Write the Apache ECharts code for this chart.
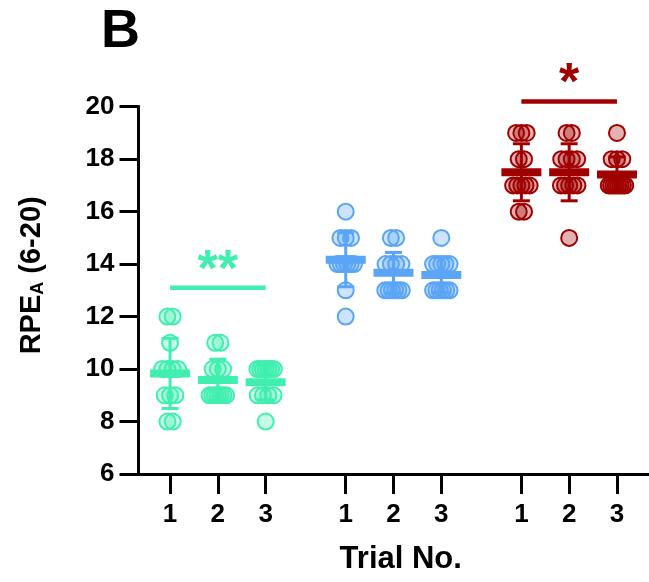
<!DOCTYPE html>
<html>
<head>
<meta charset="utf-8">
<script src="https://cdn.jsdelivr.net/npm/echarts@6/dist/echarts.min.js"></script>
<style>html,body{margin:0;padding:0;background:#fff;}#c{width:649px;height:582px;}</style>
</head>
<body>
<div id="c"></div>
<script>
// ---- data ----
const trialLabels = ['1', '2', '3'];
const groupNames = ['G1', 'G2', 'G3'];
const green = [
  [12, 12, 11, 10, 10, 10, 10, 9, 9, 9, 8, 8],
  [11, 11, 10, 10, 10, 9, 9, 9, 9, 9, 9, 9],
  [10, 10, 10, 10, 10, 10, 10, 9, 9, 9, 9, 8]
];
const blue = [
  [16, 15, 15, 15, 14, 14, 14, 14, 14, 14, 13, 12],
  [15, 15, 14, 14, 14, 14, 13, 13, 13, 13, 13, 13],
  [15, 14, 14, 14, 14, 14, 13, 13, 13, 13, 13, 13]
];
const red = [
  [19, 19, 19, 18, 18, 17, 17, 17, 17, 17, 16, 16],
  [19, 19, 18, 18, 18, 18, 17, 17, 17, 17, 17, 15],
  [19, 18, 18, 18, 17, 17, 17, 17, 17, 17, 17, 17]
];
const yTicks = [6, 8, 10, 12, 14, 16, 18, 20];
// significance: [group index, y level, label]
const sigGroups = [0, 2];
const sigLevels = [13.1, 20.2];
const sigLabels = ['**', '*'];

// ---- layout / style ----
const FONT = 'Liberation Sans, Arial, Helvetica, sans-serif';
const GROUP_SPACING = 3.675;
const PX_PER_UNIT = 47.8;
const colors = ['#40efb0', '#5aa5f5', '#a00000'];
const fills = ['rgba(64,239,176,0.3)', 'rgba(90,165,245,0.3)', 'rgba(160,0,0,0.3)'];
const groups = [green, blue, red];

function xPos(g, t) { return g * GROUP_SPACING + t; }
const tickPositions = [];
for (let g = 0; g < 3; g++) for (let t = 0; t < 3; t++) tickPositions.push(xPos(g, t));

function swarm(values, x) {
  const counts = {}; const seen = {};
  values.forEach(v => { counts[v] = (counts[v] || 0) + 1; });
  return values.map(v => {
    const k = counts[v]; const i = seen[v] || 0; seen[v] = i + 1;
    const stepPx = k > 1 ? Math.min(5.3, 16.5 / (k - 1)) : 0;
    const off = (i - (k - 1) / 2) * stepPx / PX_PER_UNIT;
    return [x + off, v];
  });
}
function mean(a) { return a.reduce((s, v) => s + v, 0) / a.length; }
function sd(a) { const m = mean(a); return Math.sqrt(a.reduce((s, v) => s + (v - m) * (v - m), 0) / (a.length - 1)); }

const series = [];
groups.forEach((grp, g) => {
  const pts = [];
  grp.forEach((vals, t) => { pts.push(...swarm(vals, xPos(g, t))); });
  series.push({
    type: 'scatter', name: groupNames[g], data: pts, symbol: 'circle', symbolSize: 16,
    itemStyle: { color: fills[g], borderColor: colors[g], borderWidth: 2, opacity: 1 },
    z: 2, silent: true
  });
});
groups.forEach((grp, g) => {
  const stats = grp.map((vals, t) => [xPos(g, t), mean(vals), sd(vals)]);
  series.push({
    type: 'custom', data: stats, z: 5, silent: true,
    encode: { x: 0, y: 1 },
    renderItem: function (params, api) {
      const x = api.value(0), m = api.value(1), s = api.value(2);
      const c = api.coord([x, m]);
      const top = api.coord([x, m + s]);
      const bot = api.coord([x, m - s]);
      const col = colors[g];
      return {
        type: 'group', children: [
          { type: 'line', shape: { x1: c[0], y1: top[1], x2: c[0], y2: bot[1] }, style: { stroke: col, lineWidth: 3 } },
          { type: 'line', shape: { x1: c[0] - 8.5, y1: top[1], x2: c[0] + 8.5, y2: top[1] }, style: { stroke: col, lineWidth: 3 } },
          { type: 'line', shape: { x1: c[0] - 8.5, y1: bot[1], x2: c[0] + 8.5, y2: bot[1] }, style: { stroke: col, lineWidth: 3 } },
          { type: 'rect', shape: { x: c[0] - 20, y: c[1] - 4, width: 40, height: 8 }, style: { fill: col } }
        ]
      };
    }
  });
});
series.push({
  type: 'custom', z: 6, silent: true, clip: false,
  data: sigGroups.map((g, i) => [xPos(g, 0), xPos(g, 2), sigLevels[i]]),
  renderItem: function (params, api) {
    const i = params.dataIndex;
    const g = sigGroups[i];
    const p1 = api.coord([api.value(0), api.value(2)]);
    const p2 = api.coord([api.value(1), api.value(2)]);
    return {
      type: 'group', children: [
        { type: 'line', shape: { x1: p1[0], y1: p1[1], x2: p2[0], y2: p2[1] }, style: { stroke: colors[g], lineWidth: 4.5 } },
        { type: 'text', style: { text: sigLabels[i], x: (p1[0] + p2[0]) / 2, y: p1[1] - 16.5, align: 'center', verticalAlign: 'middle', fontSize: 52, fontWeight: 'bold', fontFamily: FONT, fill: colors[g] } }
      ]
    };
  }
});

const chart = echarts.init(document.getElementById('c'), null, { renderer: 'canvas' });
chart.setOption({
  animation: false,
  backgroundColor: '#fff',
  grid: { left: 138.5, top: 106.7, right: 0, bottom: 108, containLabel: false, outerBoundsMode: 'none' },
  xAxis: {
    type: 'value', min: -0.66, max: 10.02,
    name: 'Trial No.', nameLocation: 'middle', nameGap: 70,
    nameTextStyle: { fontSize: 31, fontWeight: 'bold', fontFamily: FONT, color: '#000', padding: [0, 0, 0, 14] },
    axisLine: { show: true, onZero: false, lineStyle: { color: '#000', width: 3, cap: 'square' } },
    axisTick: { show: true, length: 20, customValues: tickPositions, lineStyle: { color: '#000', width: 3 } },
    axisLabel: {
      show: true, customValues: tickPositions, margin: 28, fontSize: 26, fontWeight: 'bold', fontFamily: FONT, color: '#000',
      formatter: function (v) {
        let best = 0, bd = 1e9;
        tickPositions.forEach((p, i) => { const d = Math.abs(p - v); if (d < bd) { bd = d; best = i; } });
        return trialLabels[best % 3];
      }
    },
    splitLine: { show: false }
  },
  yAxis: {
    type: 'value', min: yTicks[0], max: yTicks[yTicks.length - 1], interval: 2,
    name: '{m|RPE}{s|A}{m| (6-20)}', nameLocation: 'middle', nameRotate: 90, nameGap: 92,
    nameTextStyle: {
      color: '#000', padding: [0, 0, 0, 30],
      rich: {
        m: { fontSize: 29, fontWeight: 'bold', fontFamily: FONT, color: '#000', lineHeight: 29, verticalAlign: 'top' },
        s: { fontSize: 18, fontWeight: 'bold', fontFamily: FONT, color: '#000', lineHeight: 18, verticalAlign: 'top', padding: [12, 0, 0, 0] }
      }
    },
    axisLine: { show: true, onZero: false, lineStyle: { color: '#000', width: 3, cap: 'square' } },
    axisTick: { show: true, length: 19, lineStyle: { color: '#000', width: 3 } },
    axisLabel: { show: true, margin: 24, fontSize: 26, fontWeight: 'bold', fontFamily: FONT, color: '#000' },
    splitLine: { show: false }
  },
  graphic: [
    { type: 'text', left: 101, top: 5, style: { text: 'B', fontSize: 54, fontWeight: 'bold', fontFamily: FONT, fill: '#000' } }
  ],
  series: series
});
</script>
</body>
</html>
